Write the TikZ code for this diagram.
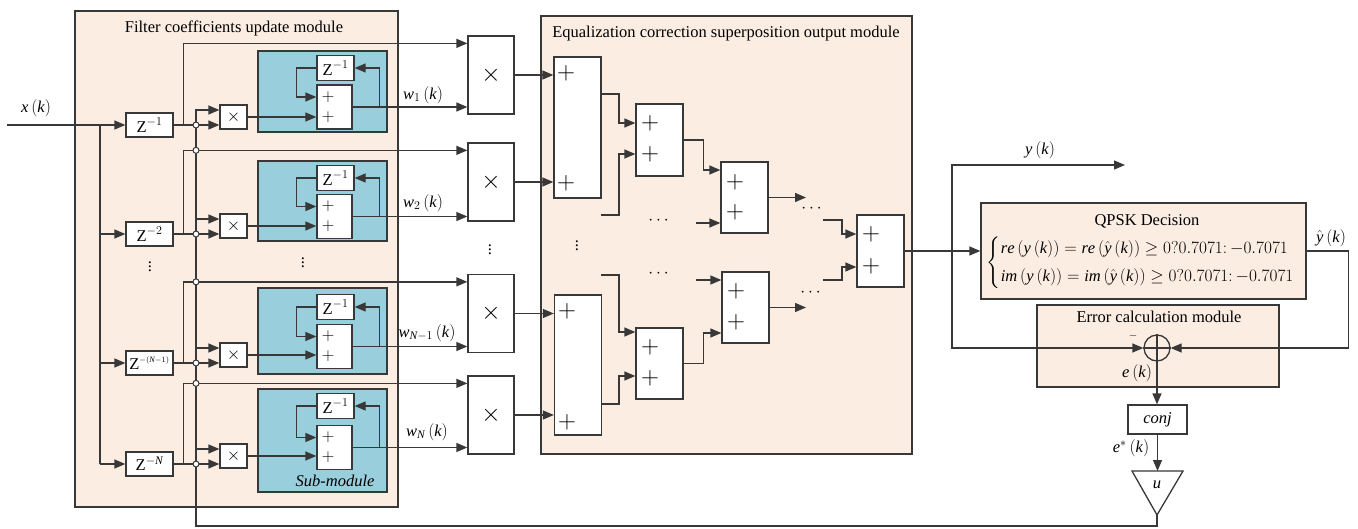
\documentclass[tikz,border=0pt]{standalone}
\usepackage{amsmath}
\usepackage{fontspec}
\setmainfont{Liberation Serif}
\DeclareSymbolFont{tletters}{TU}{\rmdefault}{m}{it}
\DeclareSymbolFont{tdigits}{TU}{\rmdefault}{m}{n}
\makeatletter
\@tfor\ch:=abcdefghijklmnopqrstuvwxyzZN\do{%
  \expandafter\DeclareMathSymbol\expandafter{\ch}{\mathalpha}{tletters}{\expandafter`\ch}}
\@tfor\ch:=0123456789\do{%
  \expandafter\DeclareMathSymbol\expandafter{\ch}{\mathalpha}{tdigits}{\expandafter`\ch}}
\makeatother
\usetikzlibrary{arrows.meta}
\definecolor{peachc}{HTML}{FCEDE3}
\definecolor{bluec}{HTML}{99CFDD}
\definecolor{lc}{HTML}{383838}
\tikzset{
  ln/.style={line width=1.3pt, draw=lc},
  arr/.style={ln, -{Triangle[length=11pt,width=9pt]}},
  wbox/.style={draw=lc, line width=1.3pt, fill=white, inner sep=0pt},
  peachbox/.style={draw=lc, line width=1.3pt, fill=peachc, inner sep=0pt},
  submod/.style={draw=lc, line width=1.3pt, fill=bluec, inner sep=0pt},
  jn/.style={circle, draw=lc, fill=white, line width=1pt, minimum size=6pt, inner sep=0pt},
  bigplus/.style={font=\fontsize{27}{27}\selectfont},
}
\begin{document}
\begin{tikzpicture}[x=1pt,y=-1pt, font=\fontsize{16.5}{19}\selectfont, every node/.append style={inner sep=0pt}]
\useasboundingbox (0,0) rectangle (1358,528);

% ---------- modules ----------
\node[peachbox, minimum width=323pt, minimum height=496pt] (FM) at (236.5,259) {};
\node (FMt) at (234,28) {Filter coefficients update module};
\node[peachbox, minimum width=371pt, minimum height=438pt] (EM) at (726.5,235) {};
\node (EMt) at (726,34) {Equalization correction superposition output module};

% ---------- rows ----------
\foreach \r/\zl/\zc/\sc/\sh/\ic/\ac/\mc/\wl/\wx/\wy in {
  1/{\scriptstyle -1}/125/91.5/81/68/107/75/{1}/423/95,
  2/{\scriptstyle -2}/234/201/80/178/216.5/182/{2}/423/203,
  3/{\scriptscriptstyle -(N-1)}/363/331/86/307/346.5/313.5/{N-1}/427/333,
  4/{\scriptstyle -N}/464/440.5/103/406/447.5/415/{N}/427/432}{
  \pgfmathsetmacro\xc{\zc-8}
  \pgfmathsetmacro\xt{\zc-15}
  \pgfmathsetmacro\pa{\ac-10}
  \pgfmathsetmacro\pb{\ac+10}
  \node[submod, minimum width=129pt, minimum height=\sh pt] (S\r) at (322.5,\sc) {};
  \node[wbox, minimum width=47pt, minimum height=24pt] (Z\r) at (149.5,\zc) {$\text{Z}^{\zl}$};
  \node[wbox, minimum width=27pt, minimum height=24pt] (X\r) at (233.5,\xc) {$\times$};
  \node[wbox, minimum width=37pt, minimum height=25pt] (I\r) at (335.5,\ic) {$\text{Z}^{-1}$};
  \node[wbox, minimum width=35pt, minimum height=44pt] (A\r) at (334.5,\ac) {};
  \node (Ap\r) at (328,\pa) {$+$};
  \node (Aq\r) at (328,\pb) {$+$};
  \node[wbox, minimum width=46pt, minimum height=78pt] (M\r) at (491,\mc) {\fontsize{46}{46}\selectfont$\times$};
  \node (W\r) at (\wx,\wy) {$w_{\wl}\left(k\right)$};
  \coordinate (U\r) at (196,\xt);
  \coordinate (MT\r) at ([yshift=-8pt]M\r.north west);
  \draw[arr] (Z\r.east) -- (X\r.west |- Z\r.east);
  \draw[arr] (Z\r.east) -- ++(10,0) |- (MT\r);
  \draw[arr] (X\r.east) -- (A\r.west |- X\r.east);
  \draw[arr] (A\r.east) -- (M\r.west |- A\r.east);
  \draw[arr] (A\r.east) -- ++(27,0) |- (I\r.east);
  \draw[arr] (I\r.west) -- ++(-20,0) |- ([yshift=10pt]A\r.west);
}

% input x(k)
\coordinate (xin) at (7,125);
\coordinate (xv) at (100,125);
\node (xl) at (36,108) {$x\left(k\right)$};
\draw[arr] (xin) -- (Z1.west);
\draw[ln] (xv) -- (xv |- Z4.west);
\foreach \r in {2,3,4}{ \draw[arr] (xv |- Z\r.west) -- (Z\r.west); }

% dots
\node (d1) at (150,264) {$\vdots$};
\node (d2) at (303,260) {$\vdots$};
\node (d3) at (490,247) {$\vdots$};
\node (d4) at (577,243) {$\vdots$};
\node (smt) at (335,481) {\textit{Sub-module}};

% ---------- equalization adders ----------
\node[wbox, minimum width=47pt, minimum height=141pt] (B0a) at (577.5,127.5) {};
\node[wbox, minimum width=47pt, minimum height=140pt] (B0b) at (578,365) {};
\node[wbox, minimum width=47pt, minimum height=72pt] (B1) at (659.5,140) {};
\node[wbox, minimum width=47pt, minimum height=71pt] (B2) at (659.5,363.5) {};
\node[wbox, minimum width=47pt, minimum height=71pt] (C1) at (744.5,197.5) {};
\node[wbox, minimum width=47pt, minimum height=71pt] (C2) at (745.5,307.5) {};
\node[wbox, minimum width=47pt, minimum height=72pt] (D) at (880.5,251) {};
\foreach \n/\px/\py in {p1/566/73, p2/566/183, p3/567/311, p4/567/422,
  p5/650/123, p6/650/154, p7/650/347, p8/650/378,
  p9/735/182, p10/735/212, p11/736/291, p12/736/322,
  p13/871/234, p14/871/266}{
  \node[bigplus] (\n) at (\px,\py) {$+$};
}
\draw[arr] (M1.east) -- (B0a.west |- M1.east);
\draw[arr] (M2.east) -- (B0a.west |- M2.east);
\draw[arr] (M3.east) -- (B0b.west |- M3.east);
\draw[arr] (M4.east) -- (B0b.west |- M4.east);

\coordinate (a1o) at (601,94);
\coordinate (s1) at (601,215);
\coordinate (s2) at (601,275);
\coordinate (a2o) at (601,404);
\draw[arr] (a1o) -- ++(18,0) |- ([yshift=17pt]B1.west);
\draw[arr] (s1) -- ++(18,0) |- ([yshift=-14pt]B1.west);
\draw[arr] (s2) -- ++(18,0) |- ([yshift=31.5pt]B2.west);
\draw[arr] (a2o) -- ++(18,0) |- ([yshift=-12.5pt]B2.west);

\coordinate (t1) at (696,223);
\coordinate (t2) at (696,280);
\draw[arr] (B1.east) -- ++(20,0) |- ([yshift=27.5pt]C1.west);
\draw[arr] (t1) -- (t1 -| C1.west);
\draw[arr] (t2) -- (t2 -| C2.west);
\draw[arr] (B2.east) -- ++(20,0) |- ([yshift=-25.5pt]C2.west);

\coordinate (c1e) at (806,197.5);
\coordinate (c2e) at (806,307.5);
\draw[arr] (C1.east) -- (c1e);
\draw[arr] (C2.east) -- (c2e);

\coordinate (dd1) at (823,220);
\coordinate (dd2) at (823,280);
\draw[arr] (dd1) -- ++(19,0) |- ([yshift=17pt]D.west);
\draw[arr] (dd2) -- ++(19,0) |- ([yshift=-16pt]D.west);

\node (h1) at (660,221) {$\cdots$};
\node (h2) at (660,274) {$\cdots$};
\node (h3) at (813,209) {$\cdots$};
\node (h4) at (812,293) {$\cdots$};

% ---------- right side ----------
\node[peachbox, minimum width=325pt, minimum height=96pt] (Q) at (1143.5,251) {};
\node (Qt) at (1147,221) {QPSK Decision};
\node (Qe) at (1149,263) {$\begin{cases}
 re\left(y\left(k\right)\right)=re\left(\hat{y}\left(k\right)\right)\geq 0?0.7071{:}\,{-}0.7071\\[6pt]
 im\left(y\left(k\right)\right)=im\left(\hat{y}\left(k\right)\right)\geq 0?0.7071{:}\,{-}0.7071
\end{cases}$};
\node[peachbox, minimum width=242pt, minimum height=82pt] (EC) at (1158,346) {};
\node (ECt) at (1159,317) {Error calculation module};
\node[circle, draw=lc, line width=1.3pt, fill=peachc, minimum size=26pt] (E) at (1157,348) {};
\draw[ln] (E.north) -- (E.south) (E.west) -- (E.east);
\node (minus) at (1133,336) {\fontsize{11}{11}\selectfont$-$};
\node (el) at (1137,373) {$e\left(k\right)$};

\draw[arr] (D.east) -- (Q.west |- D.east);
\coordinate (br) at (952,251);
\coordinate (yout) at (1125,165);
\draw[arr] (br) |- (yout);
\node (yl) at (1040,150) {$y\left(k\right)$};
\draw[arr] (br) |- (E.west);
\draw[arr] (Q.east) -- ++(42,0) |- (E.east);
\node (yh) at (1331,238) {$\hat{y}\left(k\right)$};

\node[wbox, minimum width=59pt, minimum height=29pt] (CJ) at (1157.5,419.5) {\textit{conj}};
\draw[arr] (E.south) -- (E.south |- CJ.north);
\coordinate (T1) at (1132,471);
\coordinate (T2) at (1183,471);
\coordinate (T3) at (1157,515);
\draw[ln, fill=white] (T1) -- (T2) -- (T3) -- cycle;
\node (ul) at (1157,485) {$u$};
\draw[arr] (CJ.south) -- (CJ.south |- T1);
\node (esl) at (1131,448) {$e^{*}\left(k\right)$};

% feedback u line
\draw[arr] (T3) -- ++(0,11) -| (U1) -- ([yshift=7pt]X1.west);
\foreach \r in {2,3,4}{ \draw[arr] (U\r) -- ([yshift=7pt]X\r.west); }

% junction markers
\foreach \r in {1,2,3,4}{ \node[jn] (Ja\r) at (U1 |- Z\r.east) {}; }
\foreach \r in {2,3,4}{ \node[jn] (Jb\r) at (U1 |- MT\r) {}; }
\end{tikzpicture}
\end{document}
